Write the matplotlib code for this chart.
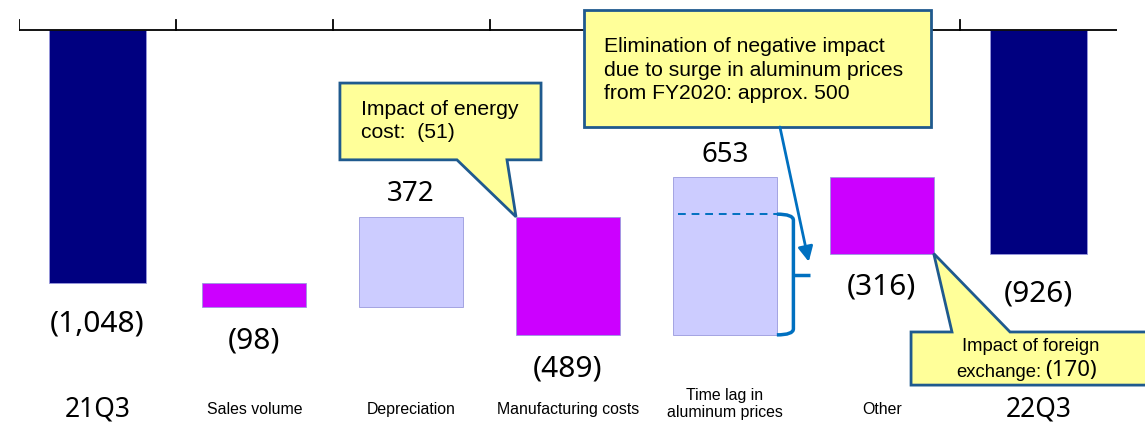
import numpy as np
import matplotlib
matplotlib.use('Agg')
import matplotlib.pyplot as plt
from matplotlib.patches import Polygon, PathPatch
from matplotlib.path import Path
import matplotlib.transforms as mtransforms

plt.rcParams['font.family'] = ['Liberation Sans', 'DejaVu Sans']

# operating income bridge, 21Q3 -> 22Q3
categories = ['21Q3', 'Sales volume', 'Depreciation', 'Manufacturing costs',
              'Time lag in\naluminum prices', 'Other', '22Q3']
changes = [-1048, -98, 372, -489, 653, -316, -926]
is_total = [True, False, False, False, False, False, True]
aluminum_surge = 500      # share of the time-lag effect
energy_cost = -51
fx_impact = -170

NAVY = '#000080'
MAGENTA = '#CC00FF'
LAVENDER = '#CCCCFF'
NOTE_FILL = '#FFFF99'
NOTE_EDGE = '#1F5A8E'
ARROW = '#0070C0'


def fmt(v):
    return f'({abs(v):,})' if v < 0 else f'{v:,}'


# bottoms / tops of the floating bars
bottoms, tops = [], []
running = 0
for v, tot in zip(changes, is_total):
    if tot:
        lo, hi = min(0, v), max(0, v)
        running = v
    else:
        start = running
        running = start + v
        lo, hi = min(start, running), max(start, running)
    bottoms.append(lo)
    tops.append(hi)

fig = plt.figure(figsize=(11.45, 4.23), dpi=100)
ax = fig.add_axes([19 / 1145, 0, 1098 / 1145, 1])
ax.set_xlim(-0.5, 6.5)
ax.set_ylim(-1628, 124)
ax.axis('off')

x = np.arange(len(categories))
widths = [0.62 if t else 0.663 for t in is_total]
colors = []
for v, tot in zip(changes, is_total):
    if tot:
        colors.append(NAVY)
    elif v < 0:
        colors.append(MAGENTA)
    else:
        colors.append(LAVENDER)

ax.bar(x, np.array(tops) - np.array(bottoms), bottom=bottoms, width=widths,
       color=colors, edgecolor='#9999dd', linewidth=0.6, zorder=2)

# zero line along the top with boundary ticks pointing up
ax.plot([-0.5, 6.5], [0, 0], color='black', lw=1.3, zorder=3)
for b in np.arange(-0.5, 6.0, 1.0):
    ax.plot([b, b], [0, 41], color='black', lw=1.3, zorder=3)

# value labels
for xi, v, lo, hi, tot in zip(x, changes, bottoms, tops, is_total):
    if v < 0:
        ax.annotate(fmt(v), (xi, lo), xytext=(0, -19 if tot else -14),
                    textcoords='offset points', ha='center', va='top',
                    fontsize=21.5, family='Noto Sans')
    else:
        ax.annotate(fmt(v), (xi, hi), xytext=(0, 6), textcoords='offset points',
                    ha='center', va='bottom', fontsize=20, family='Noto Sans')

# category labels under the chart
trans = mtransforms.blended_transform_factory(ax.transData, ax.transAxes)
for xi, c, tot in zip(x, categories, is_total):
    if tot:
        ax.text(xi, 0.033, c, transform=trans, ha='center', va='center',
                fontsize=19, family='Noto Sans')
    else:
        ax.text(xi, 0.045 if '\n' in c else 0.031, c, transform=trans,
                ha='center', va='center', fontsize=11.4, linespacing=1.1)


def callout(x0, x1, y_top, y_bot, base1, base2, tip, on_top=False):
    if on_top:
        pts = [(x0, y_top), (base1, y_top), tip, (base2, y_top), (x1, y_top),
               (x1, y_bot), (x0, y_bot)]
    else:
        pts = [(x0, y_top), (x1, y_top), (x1, y_bot), (base2, y_bot), tip,
               (base1, y_bot), (x0, y_bot)]
    ax.add_patch(Polygon(pts, closed=True, facecolor=NOTE_FILL, edgecolor=NOTE_EDGE,
                         lw=2, zorder=5, clip_on=False, joinstyle='miter'))


# energy cost note pointing at the manufacturing bar
mfg = 3
callout(1.546, 2.828, -220, -538, 2.292, 2.611, (mfg - widths[mfg] / 2, tops[mfg]))
ax.text(1.68, -377, f'Impact of energy\ncost:  ({abs(energy_cost)})', fontsize=15.2,
        va='center', ha='left', linespacing=1.3, zorder=6)

# aluminum note with arrow to the brace
callout(3.102, 5.314, 83, -402, 4.3, 4.4, (4.35, -402))
ax.text(3.23, -166, 'Elimination of negative impact\ndue to surge in aluminum prices\n'
        f'from FY2020: approx. {aluminum_surge}', fontsize=15.2, va='center', ha='left',
        linespacing=1.3, zorder=6)

tl = 4
left = tl - widths[tl] / 2
right = tl + widths[tl] / 2
dash_y = bottoms[tl] + aluminum_surge
ax.plot([left + 0.03, right], [dash_y, dash_y], color=ARROW, lw=1.4,
        ls=(0, (4, 3)), zorder=4)

# curly brace spanning the aluminum share
bx = 4.437
nib = 4.545
mid = (dash_y + bottoms[tl]) / 2
r = 25
verts = [(right, dash_y), (bx, dash_y), (bx, dash_y - r),
         (bx, bottoms[tl] + r),
         (bx, bottoms[tl]), (right, bottoms[tl])]
codes = [Path.MOVETO, Path.CURVE3, Path.CURVE3,
         Path.LINETO,
         Path.CURVE3, Path.CURVE3]
ax.add_patch(PathPatch(Path(verts, codes), facecolor='none', edgecolor=ARROW,
                       lw=2.5, zorder=4, capstyle='butt'))
ax.plot([bx, nib], [mid, mid], color=ARROW, lw=2.5, solid_capstyle='butt', zorder=4)

ax.annotate('', xy=(4.535, -960), xytext=(4.351, -402),
            arrowprops=dict(arrowstyle='-|>,head_length=0.9,head_width=0.45',
                            color=ARROW, lw=2, shrinkA=0, shrinkB=0), zorder=6)

# foreign exchange note pointing at the "Other" bar
oth = 5
callout(5.187, 6.75, -1251, -1471, 5.448, 5.818,
        (oth + widths[oth] / 2, bottoms[oth]), on_top=True)
ax.text(5.95, -1310, 'Impact of foreign', fontsize=13.3, ha='center', va='center', zorder=6)
ax.text(6.02, -1418, 'exchange:', fontsize=13.3, ha='right', va='center', zorder=6)
ax.text(6.04, -1412, f'({abs(fx_impact)})', fontsize=16, ha='left', va='center',
        family='Noto Sans', zorder=6)

fig.savefig('out.png', dpi=100)
